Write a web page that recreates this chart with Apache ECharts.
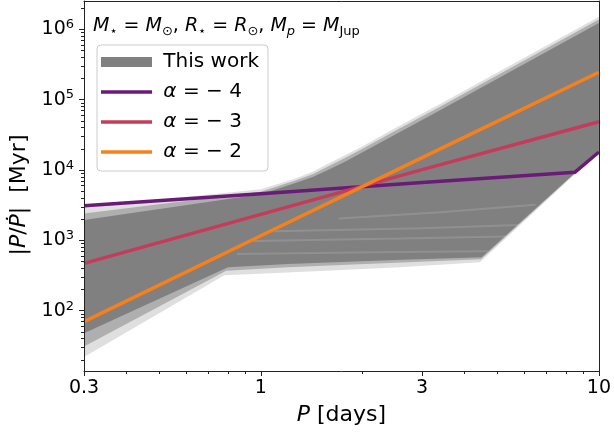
<!DOCTYPE html>
<html>
<head>
<meta charset="utf-8">
<script src="https://cdn.jsdelivr.net/npm/echarts@6/dist/echarts.min.js"></script>
<style>
  html, body { margin: 0; padding: 0; background: #ffffff; }
  #chart { width: 614px; height: 434px; }
</style>
</head>
<body>
<div id="chart"></div>
<script>
// Orbital decay timescale |P/Pdot| [Myr] versus orbital period P [days]

// Axis ranges and ticks
const periodRange = [0.3, 10];
const tauRange = [13.9, 2.52e6];
const xTickValues = [0.3, 1, 3, 10];
const xTickLabels = ['0.3', '1', '3', '10'];
const xMinorTicks = [0.4, 0.5, 0.6, 0.7, 0.8, 0.9, 2, 4, 5, 6, 7, 8, 9];
const yTickExponents = [2, 3, 4, 5, 6];
const yMinorMultipliers = [2, 3, 4, 5, 6, 7, 8, 9];

// Power-law prescriptions Q' ∝ P^alpha
const seriesNames = ['α = −4', 'α = −3', 'α = −2'];
const periodsAlpha4 = [0.3, 1, 3, 8.5, 10];
const tauAlpha4 = [3100, 4600, 6650, 9300, 18000];
const periodsAlpha3 = [0.3, 1, 3, 10];
const tauAlpha3 = [470, 2340, 10100, 48500];
const periodsAlpha2 = [0.3, 1, 3, 10];
const tauAlpha2 = [70, 1160, 15000, 245000];

// "This work": envelope of the sampled tracks, [P, tau] (upper and lower edges, left to right)
const bandOuterUpper = [[0.3, 2950], [1, 5300], [1.26, 7500], [1.43, 9500], [1.58, 12300], [1.78, 16300], [2, 21800], [2.5, 39500], [3.4, 87000], [10, 1500000]];
const bandOuterLower = [[0.3, 22], [0.78, 320], [1.2, 350], [2.5, 410], [4.45, 490], [10, 18000]];
const bandMidUpper = [[0.3, 2400], [1, 4900], [1.26, 7000], [1.43, 8800], [1.58, 11200], [1.78, 14900], [2, 20000], [2.5, 36000], [3.4, 80000], [10, 1370000]];
const bandMidLower = [[0.3, 31], [0.79, 370], [1.2, 415], [2.5, 480], [4.48, 540], [10, 18300]];
const bandCoreUpper = [[0.3, 1950], [1, 4500], [1.26, 6500], [1.43, 8000], [1.58, 10000], [1.78, 13200], [2, 17800], [2.5, 32000], [3.4, 71000], [10, 1230000]];
const bandCoreLower = [[0.3, 48], [0.8, 415], [1.2, 460], [2.5, 525], [4.5, 575], [10, 18500]];

// A few sparse tracks that show up as lighter streaks inside the band
const streakTracks = [
  [[1.7, 2050], [3.4, 2500], [6.5, 3200]],
  [[1.1, 1350], [3, 1480], [5.8, 1650]],
  [[0.95, 980], [2.6, 1060], [5.3, 1130]],
  [[0.85, 640], [2.5, 680], [4.7, 700]]
];

const colors = { band: '#808080', a4: '#6a1a77', a3: '#c63b5b', a2: '#f8801a', axis: '#222222' };
const FONT = 'DejaVu Sans';
const lg = Math.log10;

const yMinorTicks = [];
for (let e = 1; e <= 6; e++) {
  yMinorMultipliers.forEach(m => yMinorTicks.push(m * Math.pow(10, e)));
}

function toLog(pairs) { return pairs.map(d => [lg(d[0]), lg(d[1])]); }

function bandLayer(name, upper, lower, fill, z) {
  const verts = toLog(upper.concat(lower.slice().reverse()));
  return {
    type: 'custom', name: name, z: z, silent: true,
    itemStyle: { color: colors.band },
    data: verts,
    renderItem: function (params, api) {
      if (params.dataIndex !== 0) return null;
      return {
        type: 'polygon',
        shape: { points: verts.map(v => api.coord(v)) },
        style: { fill: fill, stroke: null }
      };
    }
  };
}

function lineSeries(name, periods, taus, color, z) {
  return {
    type: 'line', name: name, z: z, showSymbol: false, symbol: 'none', silent: true,
    data: periods.map((p, i) => [lg(p), lg(taus[i])]),
    lineStyle: { color: color, width: 3.5, cap: 'butt' },
    itemStyle: { color: color },
    animation: false
  };
}

const tickStyle = { color: colors.axis, width: 1 };
const xMin = lg(periodRange[0]), xMax = lg(periodRange[1]);
const yMin = lg(tauRange[0]), yMax = lg(tauRange[1]);

const series = [
  bandLayer('This work', bandOuterUpper, bandOuterLower, 'rgba(128,128,128,0.25)', 1),
  bandLayer('This work', bandMidUpper, bandMidLower, 'rgba(128,128,128,0.5)', 1),
  bandLayer('This work', bandCoreUpper, bandCoreLower, colors.band, 1)
];
streakTracks.forEach(tr => {
  series.push({
    type: 'line', z: 1, showSymbol: false, symbol: 'none', silent: true,
    data: toLog(tr),
    lineStyle: { color: 'rgba(255,255,255,0.13)', width: 2 },
    animation: false
  });
});
series.push(lineSeries(seriesNames[0], periodsAlpha4, tauAlpha4, colors.a4, 3));
series.push(lineSeries(seriesNames[1], periodsAlpha3, tauAlpha3, colors.a3, 4));
series.push(lineSeries(seriesNames[2], periodsAlpha2, tauAlpha2, colors.a2, 5));

const chart = echarts.init(document.getElementById('chart'), null, { renderer: 'canvas' });
chart.setOption({
  animation: false,
  backgroundColor: '#ffffff',
  textStyle: { fontFamily: FONT },
  grid: { left: 84, right: 13, top: 1, bottom: 63, containLabel: false },
  title: {
    left: 93, top: 15, padding: 0,
    text: '{i|M}{sub|⋆} = {i|M}{sub|⊙}, {i|R}{sub|⋆} = {i|R}{sub|⊙}, {i|M}{isub|p} = {i|M}{sub|Jup}',
    textStyle: {
      fontFamily: FONT, fontSize: 19, fontWeight: 'normal', color: '#000',
      rich: {
        i: { fontFamily: FONT, fontSize: 19, fontStyle: 'italic', color: '#000' },
        sub: { fontFamily: FONT, fontSize: 13, color: '#000', padding: [10, 0, 0, 0] },
        isub: { fontFamily: FONT, fontSize: 13, fontStyle: 'italic', color: '#000', padding: [10, 0, 0, 0] }
      }
    }
  },
  legend: {
    left: 97, top: 45, orient: 'vertical',
    padding: [6, 9, 8, 4],
    itemGap: 8, itemWidth: 51, itemHeight: 14,
    backgroundColor: 'rgba(255,255,255,0.8)', borderColor: '#cccccc', borderWidth: 1, borderRadius: 4,
    selectedMode: false,
    data: [
      { name: 'This work', icon: 'path://M0,0H51V10H0Z', itemStyle: { color: colors.band, borderWidth: 0 } },
      { name: seriesNames[0], icon: 'path://M0,0H45V3.2H0Z', itemStyle: { color: colors.a4, borderWidth: 0 } },
      { name: seriesNames[1], icon: 'path://M0,0H45V3.2H0Z', itemStyle: { color: colors.a3, borderWidth: 0 } },
      { name: seriesNames[2], icon: 'path://M0,0H45V3.2H0Z', itemStyle: { color: colors.a2, borderWidth: 0 } }
    ],
    formatter: function (name) {
      if (name === 'This work') return ' This work';
      return ' {i|α} = − ' + name.slice(-1);
    },
    textStyle: {
      fontFamily: FONT, fontSize: 20, color: '#000', lineHeight: 22,
      rich: { i: { fontFamily: FONT, fontSize: 20, fontStyle: 'italic', color: '#000' } }
    }
  },
  xAxis: [
    {
      type: 'value', min: xMin, max: xMax, position: 'bottom', z: 10,
      axisLine: { show: true, onZero: false, lineStyle: tickStyle },
      splitLine: { show: false },
      axisTick: { show: true, customValues: xTickValues.map(lg), length: 5, lineStyle: tickStyle },
      axisLabel: {
        customValues: xTickValues.map(lg), margin: 8,
        fontFamily: FONT, fontSize: 19, color: '#000',
        formatter: function (v) {
          const i = xTickValues.findIndex(t => Math.abs(lg(t) - v) < 1e-6);
          return i >= 0 ? xTickLabels[i] : '';
        }
      },
      name: '{i|P} [days]', nameLocation: 'middle', nameGap: 33,
      nameTextStyle: {
        fontFamily: FONT, fontSize: 22, color: '#000',
        rich: { i: { fontFamily: FONT, fontSize: 22, fontStyle: 'italic', color: '#000' } }
      }
    },
    {
      type: 'value', min: xMin, max: xMax, position: 'bottom', z: 10,
      axisLine: { show: false, onZero: false }, splitLine: { show: false }, axisLabel: { show: false },
      axisTick: { show: true, customValues: xMinorTicks.map(lg), length: 3, lineStyle: tickStyle }
    },
    {
      type: 'value', min: xMin, max: xMax, position: 'top', z: 10,
      axisLine: { show: true, onZero: false, lineStyle: tickStyle },
      splitLine: { show: false }, axisLabel: { show: false }, axisTick: { show: false }
    }
  ],
  yAxis: [
    {
      type: 'value', min: yMin, max: yMax, position: 'left', z: 10,
      axisLine: { show: true, onZero: false, lineStyle: tickStyle },
      splitLine: { show: false },
      axisTick: { show: true, customValues: yTickExponents, length: 5, lineStyle: tickStyle },
      axisLabel: {
        customValues: yTickExponents, margin: 10,
        fontFamily: FONT, fontSize: 19, color: '#000',
        formatter: function (v) { return '10{sup|' + Math.round(v) + '}'; },
        rich: { sup: { fontFamily: FONT, fontSize: 13, color: '#000', padding: [0, 0, 9, 0] } }
      },
      name: '|{i|P}/{i|Ṗ}|  [Myr]', nameLocation: 'middle', nameRotate: 90, nameGap: 53,
      nameTextStyle: {
        fontFamily: FONT, fontSize: 22, color: '#000', padding: [0, 18, 0, 0],
        rich: { i: { fontFamily: FONT, fontSize: 22, fontStyle: 'italic', color: '#000' } }
      }
    },
    {
      type: 'value', min: yMin, max: yMax, position: 'left', z: 10,
      axisLine: { show: false, onZero: false }, splitLine: { show: false }, axisLabel: { show: false },
      axisTick: { show: true, customValues: yMinorTicks.map(lg), length: 3, lineStyle: tickStyle }
    },
    {
      type: 'value', min: yMin, max: yMax, position: 'right', z: 10,
      axisLine: { show: true, onZero: false, lineStyle: tickStyle },
      splitLine: { show: false }, axisLabel: { show: false }, axisTick: { show: false }
    }
  ],
  series: series
});
</script>
</body>
</html>
